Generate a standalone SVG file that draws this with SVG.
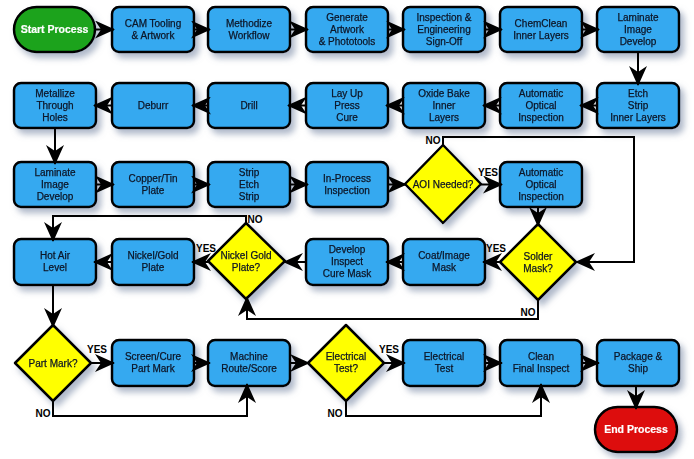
<svg xmlns="http://www.w3.org/2000/svg" width="694" height="459" viewBox="0 0 694 459">
<style>
.box{fill:#36A9F0;stroke:#000;stroke-width:2.5}
.dia{fill:#FFFF00;stroke:#000;stroke-width:2.5;stroke-linejoin:round}
.start{fill:#1BA31B;stroke:#000;stroke-width:2.5}
.end{fill:#DD0B0B;stroke:#000;stroke-width:2.5}
text{font-family:"Liberation Sans",Arial,sans-serif;font-size:10px;text-anchor:middle;fill:#0d1526;stroke:#0d1526;stroke-width:0.25}
.term{fill:#fff;stroke:#fff;stroke-width:0.2;font-weight:bold;font-size:10.5px}
.lbl{font-weight:bold;fill:#000;stroke:none;font-size:10px}
.c{fill:none;stroke:#000;stroke-width:2}
.a{marker-end:url(#arr)}
</style>
<defs>
<filter id="sh" x="-20%" y="-20%" width="150%" height="160%">
<feGaussianBlur in="SourceAlpha" stdDeviation="3"/>
<feOffset dx="4" dy="5" result="b"/>
<feFlood flood-color="#7a8aa6" flood-opacity="0.6"/>
<feComposite in2="b" operator="in"/>
<feMerge><feMergeNode/><feMergeNode in="SourceGraphic"/></feMerge>
</filter>
<marker id="arr" viewBox="0 0 20 18" refX="19" refY="9" markerWidth="20" markerHeight="18" markerUnits="userSpaceOnUse" orient="auto">
<path d="M0,0 L20,9 L0,18 L6,9 z" fill="#000"/>
</marker>
</defs>

<g id="start" filter="url(#sh)"><rect class="start" x="14" y="7" width="81" height="45" rx="22.5"/><text class="term" x="54.5" y="33">Start Process</text></g>
<g id="cam" filter="url(#sh)"><rect class="box" x="112" y="7" width="82" height="45" rx="7"/><text x="153" y="27">CAM Tooling</text><text x="153" y="39">&amp; Artwork</text></g>
<g id="methodize" filter="url(#sh)"><rect class="box" x="208" y="7" width="82" height="45" rx="7"/><text x="249" y="27">Methodize</text><text x="249" y="39">Workflow</text></g>
<g id="generate" filter="url(#sh)"><rect class="box" x="306" y="7" width="82" height="45" rx="7"/><text x="347" y="21">Generate</text><text x="347" y="33">Artwork</text><text x="347" y="45">&amp; Phototools</text></g>
<g id="signoff" filter="url(#sh)"><rect class="box" x="403" y="7" width="82" height="45" rx="7"/><text x="444" y="21">Inspection &amp;</text><text x="444" y="33">Engineering</text><text x="444" y="45">Sign-Off</text></g>
<g id="chemclean" filter="url(#sh)"><rect class="box" x="500" y="7" width="82" height="45" rx="7"/><text x="541" y="27">ChemClean</text><text x="541" y="39">Inner Layers</text></g>
<g id="laminate1" filter="url(#sh)"><rect class="box" x="597" y="7" width="82" height="45" rx="7"/><text x="638" y="21">Laminate</text><text x="638" y="33">Image</text><text x="638" y="45">Develop</text></g>

<g id="etch" filter="url(#sh)"><rect class="box" x="597" y="83" width="82" height="45" rx="7"/><text x="638" y="97">Etch</text><text x="638" y="109">Strip</text><text x="638" y="121">Inner Layers</text></g>
<g id="aoi1" filter="url(#sh)"><rect class="box" x="500" y="83" width="82" height="45" rx="7"/><text x="541" y="97">Automatic</text><text x="541" y="109">Optical</text><text x="541" y="121">Inspection</text></g>
<g id="oxide" filter="url(#sh)"><rect class="box" x="403" y="83" width="82" height="45" rx="7"/><text x="444" y="97">Oxide Bake</text><text x="444" y="109">Inner</text><text x="444" y="121">Layers</text></g>
<g id="layup" filter="url(#sh)"><rect class="box" x="306" y="83" width="82" height="45" rx="7"/><text x="347" y="97">Lay Up</text><text x="347" y="109">Press</text><text x="347" y="121">Cure</text></g>
<g id="drill" filter="url(#sh)"><rect class="box" x="208" y="83" width="82" height="45" rx="7"/><text x="249" y="109">Drill</text></g>
<g id="deburr" filter="url(#sh)"><rect class="box" x="112" y="83" width="82" height="45" rx="7"/><text x="153" y="109">Deburr</text></g>
<g id="metallize" filter="url(#sh)"><rect class="box" x="14" y="83" width="82" height="45" rx="7"/><text x="55" y="97">Metallize</text><text x="55" y="109">Through</text><text x="55" y="121">Holes</text></g>

<g id="laminate2" filter="url(#sh)"><rect class="box" x="14" y="162" width="82" height="45" rx="7"/><text x="55" y="176">Laminate</text><text x="55" y="188">Image</text><text x="55" y="200">Develop</text></g>
<g id="coppertin" filter="url(#sh)"><rect class="box" x="112" y="162" width="82" height="45" rx="7"/><text x="153" y="182">Copper/Tin</text><text x="153" y="194">Plate</text></g>
<g id="stripetch" filter="url(#sh)"><rect class="box" x="208" y="162" width="82" height="45" rx="7"/><text x="249" y="176">Strip</text><text x="249" y="188">Etch</text><text x="249" y="200">Strip</text></g>
<g id="inprocess" filter="url(#sh)"><rect class="box" x="306" y="162" width="82" height="45" rx="7"/><text x="347" y="182">In-Process</text><text x="347" y="194">Inspection</text></g>
<g id="aoineeded" filter="url(#sh)"><polygon class="dia" points="443,145 481,184 443,223 405,184"/><text x="443" y="188">AOI Needed?</text></g>
<g id="aoi2" filter="url(#sh)"><rect class="box" x="500" y="162" width="82" height="45" rx="7"/><text x="541" y="176">Automatic</text><text x="541" y="188">Optical</text><text x="541" y="200">Inspection</text></g>

<g id="hotair" filter="url(#sh)"><rect class="box" x="14" y="239" width="82" height="46" rx="7"/><text x="55" y="259">Hot Air</text><text x="55" y="271">Level</text></g>
<g id="nickelgold" filter="url(#sh)"><rect class="box" x="112" y="239" width="82" height="46" rx="7"/><text x="153" y="259">Nickel/Gold</text><text x="153" y="271">Plate</text></g>
<g id="nickelq" filter="url(#sh)"><polygon class="dia" points="246,223 285,261 246,299 208,261"/><text x="246" y="259">Nickel Gold</text><text x="246" y="271">Plate?</text></g>
<g id="develop" filter="url(#sh)"><rect class="box" x="306" y="239" width="82" height="46" rx="7"/><text x="347" y="253">Develop</text><text x="347" y="265">Inspect</text><text x="347" y="277">Cure Mask</text></g>
<g id="coat" filter="url(#sh)"><rect class="box" x="403" y="239" width="82" height="46" rx="7"/><text x="444" y="259">Coat/Image</text><text x="444" y="271">Mask</text></g>
<g id="solder" filter="url(#sh)"><polygon class="dia" points="538,224 576,262 538,300 500,262"/><text x="538" y="260">Solder</text><text x="538" y="272">Mask?</text></g>

<g id="partmark" filter="url(#sh)"><polygon class="dia" points="53,325 91,363 53,401 15,363"/><text x="53" y="367">Part Mark?</text></g>
<g id="screen" filter="url(#sh)"><rect class="box" x="112" y="340" width="82" height="46" rx="7"/><text x="153" y="360">Screen/Cure</text><text x="153" y="372">Part Mark</text></g>
<g id="machine" filter="url(#sh)"><rect class="box" x="208" y="340" width="82" height="46" rx="7"/><text x="249" y="360">Machine</text><text x="249" y="372">Route/Score</text></g>
<g id="elecq" filter="url(#sh)"><polygon class="dia" points="346,325 384,363 346,401 308,363"/><text x="346" y="360">Electrical</text><text x="346" y="372">Test?</text></g>
<g id="electest" filter="url(#sh)"><rect class="box" x="403" y="340" width="82" height="46" rx="7"/><text x="444" y="360">Electrical</text><text x="444" y="372">Test</text></g>
<g id="clean" filter="url(#sh)"><rect class="box" x="500" y="340" width="82" height="46" rx="7"/><text x="541" y="360">Clean</text><text x="541" y="372">Final Inspect</text></g>
<g id="package" filter="url(#sh)"><rect class="box" x="597" y="340" width="82" height="46" rx="7"/><text x="638" y="360">Package &amp;</text><text x="638" y="372">Ship</text></g>
<g id="end" filter="url(#sh)"><rect class="end" x="595" y="407" width="82" height="45" rx="22.5"/><text class="term" x="636" y="433">End Process</text></g>

<g id="connectors">
<path class="c a" d="M95,29.5 H114"/>
<path class="c a" d="M194,29.5 H210"/>
<path class="c a" d="M290,29.5 H308"/>
<path class="c a" d="M388,29.5 H405"/>
<path class="c a" d="M485,29.5 H502"/>
<path class="c a" d="M582,29.5 H599"/>
<path class="c a" d="M638,52 V85"/>
<path class="c a" d="M597,105.5 H580"/>
<path class="c a" d="M500,105.5 H483"/>
<path class="c a" d="M403,105.5 H386"/>
<path class="c a" d="M306,105.5 H288"/>
<path class="c a" d="M208,105.5 H192"/>
<path class="c a" d="M112,105.5 H94"/>
<path class="c a" d="M55,128 V164"/>
<path class="c a" d="M96,184.5 H114"/>
<path class="c a" d="M194,184.5 H210"/>
<path class="c a" d="M290,184.5 H308"/>
<path class="c a" d="M388,184.5 H406"/>
<path class="c a" d="M481,184.5 H502"/>
<path class="c a" d="M443,145 V137 H634 V262 H576"/>
<path class="c a" d="M538,207 V226"/>
<path class="c a" d="M500,262 H483"/>
<path class="c a" d="M403,262 H386"/>
<path class="c a" d="M306,262 H284"/>
<path class="c a" d="M208,262 H192"/>
<path class="c a" d="M112,262 H94"/>
<path class="c a" d="M246,223 V216 H53 V241"/>
<path class="c a" d="M538,300 V319 H247 V297"/>
<path class="c a" d="M53,285 V327"/>
<path class="c a" d="M91,363 H114"/>
<path class="c a" d="M194,363 H210"/>
<path class="c a" d="M290,363 H309"/>
<path class="c a" d="M384,363 H405"/>
<path class="c a" d="M485,363 H502"/>
<path class="c a" d="M582,363 H599"/>
<path class="c a" d="M53,401 V416 H247 V384"/>
<path class="c a" d="M346,401 V416 H541 V384"/>
<path class="c a" d="M636,386 V409"/>
</g>

<g id="labels">
<text class="lbl" x="433" y="144">NO</text>
<text class="lbl" x="488" y="176">YES</text>
<text class="lbl" x="496" y="252">YES</text>
<text class="lbl" x="528" y="316">NO</text>
<text class="lbl" x="206" y="252">YES</text>
<text class="lbl" x="255" y="223">NO</text>
<text class="lbl" x="97" y="353">YES</text>
<text class="lbl" x="43" y="417">NO</text>
<text class="lbl" x="389" y="353">YES</text>
<text class="lbl" x="335" y="417">NO</text>
</g>
</svg>
